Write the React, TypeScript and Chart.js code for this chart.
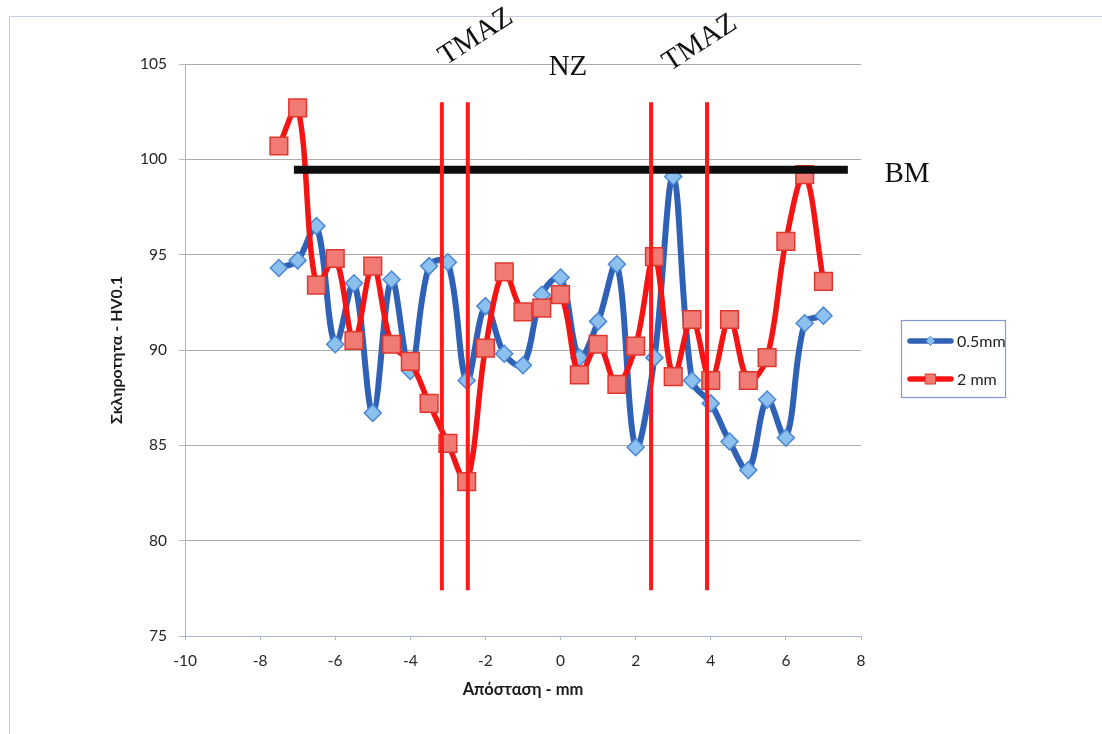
import React, { useEffect, useRef } from "react";
import { Chart, registerables } from "chart.js";

Chart.register(...registerables);

// Distance from weld centre (mm)
const distances = [
  -7.5, -7, -6.5, -6, -5.5, -5, -4.5, -4, -3.5, -3, -2.5, -2, -1.5, -1, -0.5,
  0, 0.5, 1, 1.5, 2, 2.5, 3, 3.5, 4, 4.5, 5, 5.5, 6, 6.5, 7,
];
// Hardness HV0.1 at 0.5 mm depth
const hardness05 = [
  94.3, 94.7, 96.5, 90.3, 93.5, 86.7, 93.7, 88.9, 94.4, 94.6, 88.4, 92.3, 89.8,
  89.2, 92.9, 93.8, 89.6, 91.5, 94.5, 84.9, 89.6, 99.1, 88.4, 87.2, 85.2, 83.7,
  87.4, 85.4, 91.4, 91.8,
];
// Hardness HV0.1 at 2 mm depth
const hardness2 = [
  100.7, 102.7, 93.4, 94.8, 90.5, 94.4, 90.3, 89.4, 87.2, 85.1, 83.1, 90.1,
  94.1, 92.0, 92.2, 92.9, 88.7, 90.3, 88.2, 90.2, 94.9, 88.6, 91.6, 88.4, 91.6,
  88.4, 89.6, 95.7, 99.2, 93.6,
];
// Zone boundaries (TMAZ / NZ) in mm
const zoneEdges = [-3.16, -2.47, 2.41, 3.9];
const zoneTop = 103.0;
const zoneBottom = 77.4;
// Base-metal hardness level
const bmLevel = 99.45;
const bmStart = -7.1;
const bmEnd = 7.65;

const seriesNames = ["0.5mm", "2 mm"];
const xTitle = "Απόσταση - mm";
const yTitle = "Σκληροτητα - HV0.1";

const BLUE = "#2f62b6";
const RED = "#f51414";

const overlayPlugin = {
  id: "overlay",
  afterDraw(chart: any) {
    const ctx = chart.ctx as CanvasRenderingContext2D;
    ctx.save();
    // outer chart border
    ctx.strokeStyle = "#c3cddc";
    ctx.lineWidth = 1;
    ctx.beginPath();
    ctx.moveTo(9.5, 734);
    ctx.lineTo(9.5, 16.5);
    ctx.lineTo(1102, 16.5);
    ctx.stroke();

    // zone labels
    ctx.fillStyle = "#111";
    ctx.font = "29px 'Liberation Serif', serif";
    ctx.textAlign = "center";
    ctx.textBaseline = "middle";
    const rotated = (t: string, x: number, y: number) => {
      ctx.save();
      ctx.translate(x, y);
      ctx.rotate((-33 * Math.PI) / 180);
      ctx.fillText(t, 0, 0);
      ctx.restore();
    };
    rotated("TMAZ", 476, 37);
    rotated("TMAZ", 700, 43);
    ctx.fillText("NZ", 568, 67);
    ctx.fillText("BM", 907, 174);

    // legend
    ctx.strokeStyle = "#7d9ad2";
    ctx.lineWidth = 1.2;
    ctx.strokeRect(901.5, 320.5, 104, 77);
    const entry = (y: number, color: string, kind: string, fill: string, border: string, text: string) => {
      ctx.strokeStyle = color;
      ctx.lineWidth = 5.5;
      ctx.lineCap = "round";
      ctx.beginPath();
      ctx.moveTo(910, y);
      ctx.lineTo(951, y);
      ctx.stroke();
      ctx.fillStyle = fill;
      ctx.strokeStyle = border;
      ctx.lineWidth = 1;
      ctx.beginPath();
      if (kind === "diamond") {
        ctx.moveTo(930.5, y - 4.5);
        ctx.lineTo(935, y);
        ctx.lineTo(930.5, y + 4.5);
        ctx.lineTo(926, y);
        ctx.closePath();
      } else {
        ctx.rect(925.5, y - 5, 10, 10);
      }
      ctx.fill();
      ctx.stroke();
      ctx.fillStyle = "#222";
      ctx.font = "16px Lato, sans-serif";
      ctx.textAlign = "left";
      ctx.textBaseline = "middle";
      ctx.fillText(text, 957, y + 1);
    };
    entry(341, BLUE, "diamond", "#8cc0ef", "#4b87d3", seriesNames[0]);
    entry(379, RED, "square", "#f07a74", "#e0382f", seriesNames[1]);
    ctx.restore();
  },
};

export default function App() {
  const ref = useRef<HTMLCanvasElement>(null);

  useEffect(() => {
    const zoneDatasets = zoneEdges.map((x) => ({
      label: "zone",
      data: [
        { x, y: zoneTop },
        { x, y: zoneBottom },
      ],
      borderColor: "#ff1a1a",
      borderWidth: 4,
      pointRadius: 0,
      tension: 0,
      borderCapStyle: "butt",
    }));
    const bmDataset = {
      label: "BM",
      data: [
        { x: bmStart, y: bmLevel },
        { x: bmEnd, y: bmLevel },
      ],
      borderColor: "#0d0d0d",
      borderWidth: 8,
      pointRadius: 0,
      tension: 0,
      borderCapStyle: "butt",
    };
    const redDataset = {
      label: seriesNames[1],
      data: distances.map((x, i) => ({ x, y: hardness2[i] })),
      borderColor: RED,
      borderWidth: 5.5,
      tension: 0.35,
      pointStyle: "rect",
      pointRadius: 12.5,
      pointHoverRadius: 12.5,
      pointBackgroundColor: "#f07a74",
      pointBorderColor: "#e0382f",
      pointBorderWidth: 1.5,
    };
    const blueDataset = {
      label: seriesNames[0],
      data: distances.map((x, i) => ({ x, y: hardness05[i] })),
      borderColor: BLUE,
      borderWidth: 6,
      tension: 0.35,
      pointStyle: "rectRot",
      pointRadius: 8.5,
      pointHoverRadius: 8.5,
      pointBackgroundColor: "#8cc0ef",
      pointBorderColor: "#4b87d3",
      pointBorderWidth: 1.5,
    };

    const chart = new Chart(ref.current as HTMLCanvasElement, {
      type: "line",
      data: {
        datasets: [...zoneDatasets, bmDataset, redDataset, blueDataset] as any,
      },
      options: {
        animation: false,
        responsive: false,
        devicePixelRatio: 1,
        layout: { padding: { top: 64, right: 241, left: 0, bottom: 0 } },
        plugins: {
          legend: { display: false },
          tooltip: { enabled: false },
        },
        scales: {
          x: {
            type: "linear",
            min: -10,
            max: 8,
            afterFit: (s: any) => {
              s.height = 98;
            },
            ticks: {
              stepSize: 2,
              color: "#262626",
              padding: 12,
              font: { family: "Lato, sans-serif", size: 15.5 },
            },
            grid: {
              drawOnChartArea: false,
              drawTicks: true,
              tickLength: 4,
              tickColor: "#a9b9d2",
            },
            border: { color: "#a9b9d2", width: 1 },
            title: {
              display: true,
              text: xTitle,
              color: "#1a1a1a",
              font: { family: "Lato, sans-serif", size: 16.5, weight: "bold" },
              padding: { top: 0, bottom: 34 },
            },
          },
          y: {
            type: "linear",
            min: 75,
            max: 105,
            afterFit: (s: any) => {
              s.width = 185;
            },
            ticks: {
              stepSize: 5,
              color: "#262626",
              padding: 12,
              font: { family: "Lato, sans-serif", size: 15.5 },
            },
            grid: {
              color: "#ababab",
              lineWidth: 1,
              drawTicks: true,
              tickLength: 6,
              tickColor: "#a9b9d2",
            },
            border: { color: "#a9b9d2", width: 1 },
            title: {
              display: true,
              text: yTitle,
              color: "#1a1a1a",
              font: { family: "Lato, sans-serif", size: 16, weight: "bold" },
              padding: { top: 107, bottom: 0 },
            },
          },
        },
      } as any,
      plugins: [overlayPlugin],
    });
    return () => chart.destroy();
  }, []);

  return (
    <div
      style={{
        position: "fixed",
        left: 0,
        top: 0,
        width: 1102,
        height: 734,
        background: "#ffffff",
      }}
    >
      <canvas
        ref={ref}
        width={1102}
        height={734}
        style={{ display: "block", width: 1102, height: 734 }}
      />
    </div>
  );
}
